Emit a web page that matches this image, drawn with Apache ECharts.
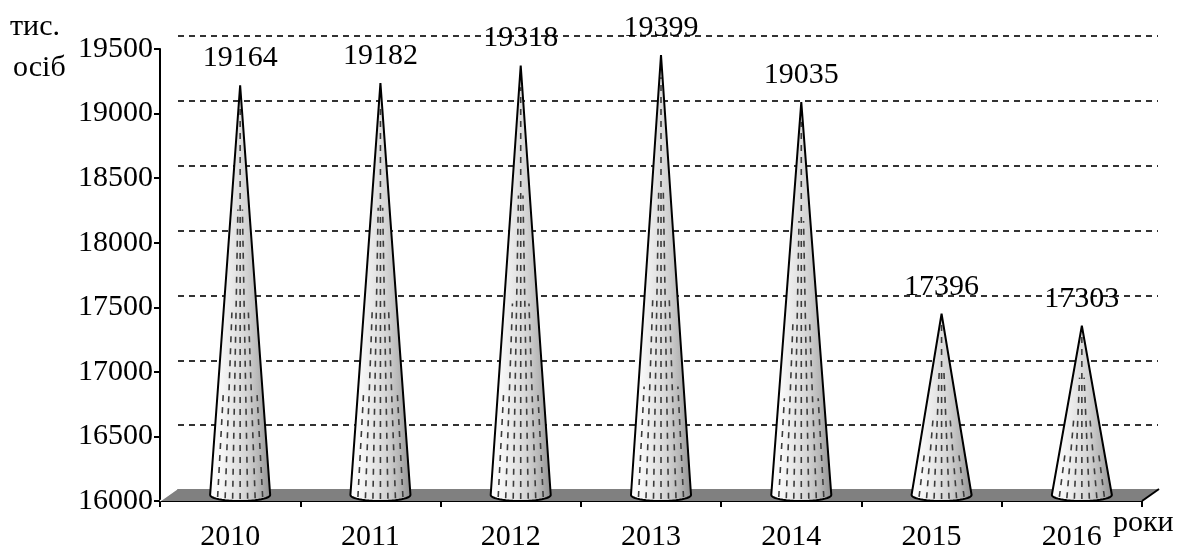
<!DOCTYPE html>
<html>
<head>
<meta charset="utf-8">
<script src="https://cdn.jsdelivr.net/npm/echarts@6/dist/echarts.min.js"></script>
<style>
html,body{margin:0;padding:0;background:#fff;}
#chart{width:1177px;height:552px;}
</style>
</head>
<body>
<div id="chart"></div>
<script>
var years = ['2010','2011','2012','2013','2014','2015','2016'];
var values = [19164, 19182, 19318, 19399, 19035, 17396, 17303];
var yMin = 16000, yMax = 19500, yStep = 500;
var yUnitLines = ['тис.', 'осіб'];
var xUnit = 'роки';

var FONT = '"Liberation Serif", "Times New Roman", serif';
var chart = echarts.init(document.getElementById('chart'), null, {renderer: 'canvas'});

function coneItem(params, api) {
  var i = api.value(0);
  var v = api.value(1);
  var base = api.coord([i, yMin]);
  var top = api.coord([i, v]);
  var w = api.size([1, 0])[0];
  var cx = base[0] + 10;
  var by = base[1] - 6;
  var ay = top[1] - 7;
  var rx = w * 0.214;
  var ry = 6;
  var arc = [];
  for (var k = 0; k <= 24; k++) {
    var t = Math.PI - Math.PI * k / 24;
    arc.push([cx + rx * Math.cos(t), by + ry * Math.sin(t)]);
  }
  var pts = [[cx, ay]].concat(arc);
  var children = [];
  children.push({
    type: 'polygon',
    shape: {points: pts},
    style: {
      fill: new echarts.graphic.LinearGradient(0, 0, 1, 0, [
        {offset: 0, color: '#ffffff'},
        {offset: 0.2, color: '#f6f6f6'},
        {offset: 0.4, color: '#e6e6e6'},
        {offset: 0.6, color: '#d4d4d4'},
        {offset: 0.8, color: '#b8b8b8'},
        {offset: 1, color: '#909090'}
      ]),
      stroke: null
    }
  });
  var stops = [0.75, 0.55, 0.3, 0.05, 0.3, 0.55, 0.75];
  for (var j = 1; j <= 7; j++) {
    var f = j / 8;
    var x = cx - rx + 2 * rx * f;
    var u = (x - cx) / rx;
    var y = by + ry * Math.sqrt(Math.max(0, 1 - u * u)) - 2;
    var stop = stops[j - 1];
    children.push({
      type: 'line',
      shape: {x1: x, y1: y, x2: cx + (x - cx) * stop, y2: ay + (y - ay) * stop},
      style: {stroke: '#3c3c3c', lineWidth: 1.6, lineDash: [6, 6]}
    });
  }
  children.push({
    type: 'polyline',
    shape: {points: [[cx, ay]].concat(arc).concat([[cx, ay]])},
    style: {stroke: '#000', lineWidth: 2, fill: null}
  });
  children.push({
    type: 'text',
    style: {
      text: String(v), x: cx, y: ay - 27,
      font: '30px ' + FONT, fill: '#000',
      align: 'center', verticalAlign: 'middle'
    }
  });
  return {type: 'group', children: children};
}

function floorItem(params, api) {
  var cs = params.coordSys;
  var x0 = cs.x, x1 = cs.x + cs.width, y0 = cs.y + cs.height;
  var dx = 17, dy = 12;
  return {
    type: 'group',
    children: [
      {type: 'polygon', shape: {points: [[x0, y0], [x1, y0], [x1 + dx, y0 - dy], [x0 + dx, y0 - dy]]},
       style: {fill: '#808080', stroke: null}},
      {type: 'line', shape: {x1: x0, y1: y0, x2: x0 + dx, y2: y0 - dy}, style: {stroke: '#ffffff', lineWidth: 1.5}},
      {type: 'line', shape: {x1: x1, y1: y0, x2: x1 + dx, y2: y0 - dy}, style: {stroke: '#000', lineWidth: 2}}
    ]
  };
}

var option = {
  backgroundColor: '#ffffff',
  animation: false,
  grid: [
    {left: 160, right: 35, top: 49, bottom: 49},
    {left: 178, right: 19, top: 36, bottom: 62}
  ],
  xAxis: [
    {
      type: 'category', gridIndex: 0, data: years, boundaryGap: true,
      axisLine: {show: true, lineStyle: {color: '#000', width: 2}},
      axisTick: {show: true, length: 6, lineStyle: {color: '#000', width: 2}},
      axisLabel: {color: '#000', fontFamily: FONT, fontSize: 30, margin: 21},
      splitLine: {show: false}
    },
    {
      type: 'category', gridIndex: 1, data: years, boundaryGap: true,
      axisLine: {show: false}, axisTick: {show: false}, axisLabel: {show: false}, splitLine: {show: false}
    }
  ],
  yAxis: [
    {
      type: 'value', gridIndex: 0, min: yMin, max: yMax, interval: yStep,
      axisLine: {show: true, lineStyle: {color: '#000', width: 2}},
      axisTick: {show: true, length: 6, lineStyle: {color: '#000', width: 2}},
      axisLabel: {color: '#000', fontFamily: FONT, fontSize: 30, margin: 7,
                  formatter: function (v) { return String(v); }},
      splitLine: {show: false}
    },
    {
      type: 'value', gridIndex: 1, min: yMin, max: yMax, interval: yStep,
      axisLine: {show: false}, axisTick: {show: false}, axisLabel: {show: false},
      splitLine: {show: true, lineStyle: {color: '#333', width: 2, type: [6, 5]}}
    }
  ],
  graphic: [
    {type: 'text', x: 10, y: 27, style: {text: yUnitLines[0], font: '30px ' + FONT, fill: '#000', verticalAlign: 'middle'}},
    {type: 'text', x: 13, y: 68, style: {text: yUnitLines[1], font: '30px ' + FONT, fill: '#000', verticalAlign: 'middle'}},
    {type: 'text', x: 1113, y: 523, style: {text: xUnit, font: '30px ' + FONT, fill: '#000', verticalAlign: 'middle'}}
  ],
  series: [
    {
      type: 'custom', xAxisIndex: 0, yAxisIndex: 0, z: 1,
      renderItem: floorItem, data: [[0, yMin]], silent: true
    },
    {
      type: 'custom', xAxisIndex: 0, yAxisIndex: 0, z: 3,
      renderItem: coneItem,
      data: values.map(function (v, i) { return [i, v]; }),
      silent: true
    }
  ]
};
chart.setOption(option);
</script>
</body>
</html>
